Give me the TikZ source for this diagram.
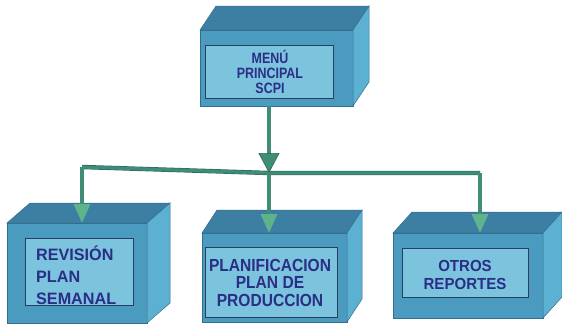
\documentclass[tikz,border=0pt]{standalone}
\usepackage{fontspec}
\setmainfont{Liberation Sans}
\usetikzlibrary{arrows.meta,calc}

\definecolor{topc}{HTML}{3D7EA3}
\definecolor{frontc}{HTML}{4B9BC0}
\definecolor{sidec}{HTML}{5CB1D3}
\definecolor{edgec}{HTML}{346E8E}
\definecolor{panelc}{HTML}{7CC4DE}
\definecolor{paneledge}{HTML}{26405E}
\definecolor{inkc}{HTML}{2A2E86}
\definecolor{busc}{HTML}{3F8D76}
\definecolor{busedge}{HTML}{2C6660}
\definecolor{headc}{HTML}{5DB48C}

\tikzset{
  frontface/.style={fill=frontc, draw=edgec, line width=0.5pt, inner sep=0pt, outer sep=0pt},
  panel/.style={fill=panelc, draw=paneledge, line width=0.9pt, inner sep=0pt, outer sep=0pt},
  caption/.style={text=inkc, inner sep=0pt},
  busline/.style={draw=busc, line width=3.2pt},
  busrim/.style={draw=busedge, line width=4.4pt},
  mainhead/.style={-{Triangle[length=20pt,width=21pt,fill=busc,color=busedge,line width=0.6pt]}},
  subhead/.style={-{Triangle[length=19pt,width=16pt,fill=headc,color=headc]}},
}

% narrow bold face: size #1, baseline skip #2, horizontal stretch #3
\newcommand\capfont[3]{\fontsize{#1}{#2}\selectfont\bfseries\addfontfeature{FakeStretch=#3}}

% top and right faces of a box whose front face is the node #1
\newcommand\cubefaces[3]{%
  \filldraw[fill=topc, draw=edgec, line width=0.5pt]
    (#1.north west) -- ++(#2,-#3) -- ($(#1.north east)+(#2,-#3)$) -- (#1.north east) -- cycle;
  \filldraw[fill=sidec, draw=edgec, line width=0.5pt]
    (#1.north east) -- ++(#2,-#3) -- ($(#1.south east)+(#2,-#3)$) -- (#1.south east) -- cycle;
}

\begin{document}
\begin{tikzpicture}[x=1pt, y=-1pt]
\useasboundingbox[fill=white] (0,0) rectangle (562,330);

% main menu box
\node[frontface, minimum width=153pt, minimum height=76pt] (menu) at (276.5,68) {};
\cubefaces{menu}{16}{24}
\node[panel, minimum width=128pt, minimum height=53pt] (menupanel) at (269,71.5) {};
\node[caption, align=center, font=\capfont{15}{15}{0.83}] (menutext) at (270,72)
  {MENÚ\\PRINCIPAL\\SCPI};

% weekly plan review box
\node[frontface, minimum width=140pt, minimum height=100pt] (rev) at (77,273) {};
\cubefaces{rev}{23}{20}
\node[panel, minimum width=108pt, minimum height=67pt] (revpanel) at (79,271.5) {};
\node[caption, anchor=west, align=left, font=\capfont{16.5}{22}{0.98}] (revtext) at (36,275)
  {REVISIÓN\\PLAN\\SEMANAL};

% production planning box
\node[frontface, minimum width=145pt, minimum height=89pt] (plan) at (274.5,277.5) {};
\cubefaces{plan}{15}{23}
\node[panel, minimum width=132pt, minimum height=70pt] (planpanel) at (271,282) {};
\node[caption, align=center, font=\capfont{17.5}{17.5}{0.89}] (plantext) at (270,282.5)
  {PLANIFICACION\\PLAN DE\\PRODUCCION};

% other reports box
\node[frontface, minimum width=150pt, minimum height=85pt] (otros) at (468,275.5) {};
\cubefaces{otros}{19}{21}
\node[panel, minimum width=126pt, minimum height=49pt] (otrospanel) at (465,272.5) {};
\node[caption, align=center, font=\capfont{16}{18}{0.94}] (otrostext) at (465,274.5)
  {OTROS\\REPORTES};

% distribution bus
\coordinate (j) at (269,173);
\coordinate (bl) at (82,167);
\coordinate (br) at (480,173);

\draw[busrim] (bl) -- (j) -- (br);
\draw[busline] (bl) -- (j) -- (br);
\foreach \c/\b in {bl/rev, j/plan, br/otros}{
  \draw[busrim] (\c) -- ($(\c |- \b.north)+(0,-20)$);
  \draw[busline, subhead] (\c) -- (\c |- \b.north);
}

% menu down to the bus
\draw[busrim] (j |- menu.south) -- ($(j)+(0,-19)$);
\draw[busline, mainhead] (j |- menu.south) -- (j);
\end{tikzpicture}
\end{document}
